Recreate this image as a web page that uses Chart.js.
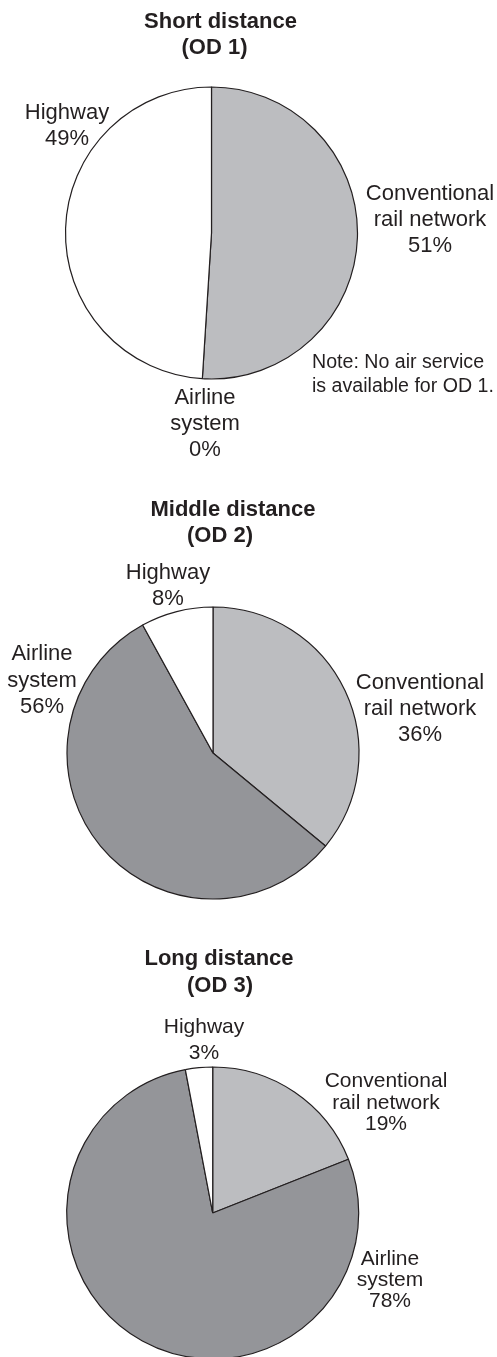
<!DOCTYPE html>
<html><head><meta charset="utf-8">
<script src="https://cdn.jsdelivr.net/npm/chart.js@4.4.1/dist/chart.umd.min.js"></script>
<style>
html,body{margin:0;padding:0;background:#fff;overflow:hidden;width:497px;height:1357px;position:relative}
.w{position:absolute;left:0;width:497px}
</style></head><body>
<div class="w" style="top:0;height:460px"><canvas id="c1"></canvas></div>
<div class="w" style="top:460px;height:440px"><canvas id="c2"></canvas></div>
<div class="w" style="top:900px;height:470px"><canvas id="c3"></canvas></div>
<script>
// ---- data ----
const categories = ["Conventional rail network", "Airline system", "Highway"];
const categoryLines = [["Conventional", "rail network"], ["Airline", "system"], ["Highway"]];
const od1Values = [51, 0, 49];
const od2Values = [36, 56, 8];
const od3Values = [19, 78, 3];
const od1Title = ["Short distance", "(OD 1)"];
const od2Title = ["Middle distance", "(OD 2)"];
const od3Title = ["Long distance", "(OD 3)"];
const od1Note = ["Note: No air service", "is available for OD 1."];

// ---- styles / layout ----
const sliceColors = ["#bcbdc0", "#949599", "#ffffff"];
const edgeColor = "#231f20";
const textColor = "#231f20";
const FONT = '"Liberation Sans", Arial, Helvetica, sans-serif';
const W = 497;
const RADIUS = 146;
const HALF = 147;

const panels = [
  { id: "c1", top: 0, height: 460, cx: 211.5, cy: 233, values: od1Values, title: od1Title,
    titlePos: [[220.5, 22.2], [214.5, 48.3]], titleSize: 22, labelSize: 22,
    labelPos: [[430, 194, 26], [205, 398.3, 26], [67, 112.7, 26]],
    note: od1Note, notePos: [312, 362.5, 24.5], noteSize: 19.6 },
  { id: "c2", top: 460, height: 440, cx: 213, cy: 753, values: od2Values, title: od2Title,
    titlePos: [[233, 510], [220, 536]], titleSize: 22, labelSize: 22,
    labelPos: [[420, 682.7, 26.2], [42, 654.3, 26.5], [168, 573.3, 26]] },
  { id: "c3", top: 900, height: 470, cx: 212.7, cy: 1213, values: od3Values, title: od3Title,
    titlePos: [[219, 959.3], [220, 986]], titleSize: 22, labelSize: 21,
    labelPos: [[386, 1081.7, 21.3], [390, 1259.3, 21.2], [204, 1027.7, 25.6]] }
];

const labelPlugin = {
  id: "odLabels",
  afterDraw(chart, args, o) {
    const ctx = chart.ctx;
    ctx.save();
    ctx.fillStyle = textColor;
    ctx.textAlign = "center";
    ctx.textBaseline = "middle";
    ctx.font = "bold " + o.titleSize + "px " + FONT;
    o.title.forEach((t, i) => ctx.fillText(t, o.titlePos[i][0], o.titlePos[i][1] - o.top));
    ctx.font = o.labelSize + "px " + FONT;
    const vals = chart.data.datasets[0].data;
    chart.data.labels.forEach((lab, i) => {
      const lines = categoryLines[i].concat([vals[i] + "%"]);
      const p = o.labelPos[i];
      lines.forEach((ln, k) => ctx.fillText(ln, p[0], p[1] - o.top + k * p[2]));
    });
    if (o.note) {
      ctx.textAlign = "left";
      ctx.font = o.noteSize + "px " + FONT;
      o.note.forEach((ln, k) => ctx.fillText(ln, o.notePos[0], o.notePos[1] - o.top + k * o.notePos[2]));
    }
    ctx.restore();
  }
};

panels.forEach(p => {
  const localCy = p.cy - p.top;
  new Chart(document.getElementById(p.id), {
    type: "pie",
    data: {
      labels: categories,
      datasets: [{
        data: p.values,
        backgroundColor: sliceColors,
        borderColor: edgeColor,
        borderWidth: 1.2,
        hoverOffset: 0
      }]
    },
    options: {
      responsive: true,
      maintainAspectRatio: false,
      animation: false,
      devicePixelRatio: 1,
      radius: RADIUS,
      rotation: 0,
      layout: { padding: { left: p.cx - HALF, right: W - (p.cx + HALF), top: localCy - HALF, bottom: p.height - (localCy + HALF) } },
      plugins: {
        legend: { display: false },
        tooltip: { enabled: false },
        title: { display: false },
        odLabels: Object.assign({}, p)
      }
    },
    plugins: [labelPlugin]
  });
});
</script>
</body></html>
